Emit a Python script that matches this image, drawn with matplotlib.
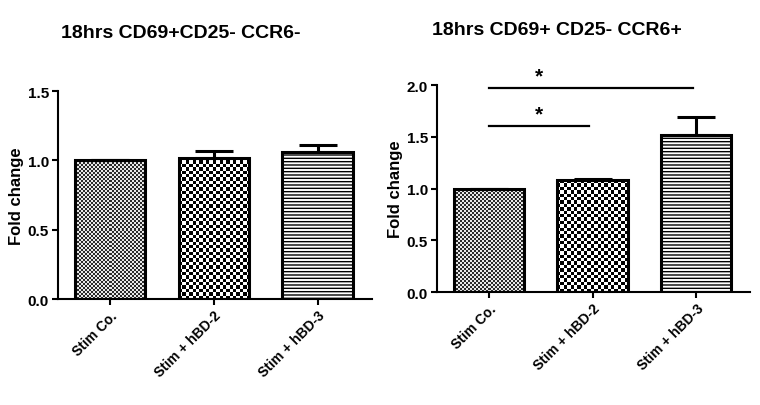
import numpy as np
import matplotlib
matplotlib.use("Agg")
import matplotlib.pyplot as plt

plt.rcParams['font.family'] = ['Liberation Sans', 'DejaVu Sans']
plt.rcParams['font.weight'] = 'bold'

groups = ["Stim Co.", "Stim + hBD-2", "Stim + hBD-3"]

# panel 1: CD69+CD25- CCR6-
left_vals = [1.0, 1.02, 1.06]
left_err = [0.0, 0.045, 0.05]

# panel 2: CD69+ CD25- CCR6+
right_vals = [1.0, 1.08, 1.52]
right_err = [0.0, 0.015, 0.17]
right_sig = [(0, 2, 1.97), (0, 1, 1.60)]  # (from, to, height)

titles = ["18hrs CD69+CD25- CCR6-", "18hrs CD69+ CD25- CCR6+"]

fig = plt.figure(figsize=(7.6, 4.06), dpi=100)
axL = fig.add_axes([0.0763, 0.261, 0.413, 0.512])
axR = fig.add_axes([0.575, 0.278, 0.412, 0.510])


def checker_fill(ax, bar, cell_px, dark='black', light='white'):
    # fill a bar with a checkerboard image clipped to the bar outline
    x0, w, h = bar.get_x(), bar.get_width(), bar.get_height()
    p0 = ax.transData.transform((x0, 0))
    p1 = ax.transData.transform((x0 + w, h))
    nx = max(int(round(abs(p1[0] - p0[0]) / cell_px)), 1)
    ny = max(int(round(abs(p1[1] - p0[1]) / cell_px)), 1)
    grid = (np.add.outer(np.arange(ny), np.arange(nx)) % 2).astype(float)
    cmap = matplotlib.colors.ListedColormap([light, dark])
    im = ax.imshow(grid, extent=(x0, x0 + w, 0, h), cmap=cmap, interpolation='nearest',
                   aspect='auto', zorder=1)
    im.set_clip_path(bar)


def draw_panel(ax, vals, err, ymax):
    x = np.arange(len(groups))
    ax.set_xlim(-0.5, len(groups) - 0.48)
    ax.set_ylim(0, ymax)
    bars = ax.bar(x, vals, width=0.68, facecolor='white', edgecolor='black', linewidth=2.2, zorder=2)
    bars[0].set_facecolor('none')
    bars[1].set_facecolor('none')
    bars[2].set_hatch('-----')
    bars[2].set_facecolor('white')
    checker_fill(ax, bars[0], 2, dark='#2a2a2a', light='#e8e8e8')
    checker_fill(ax, bars[1], 3.4)
    ax.errorbar(x, vals, yerr=[np.zeros(len(err)), err], fmt='none', ecolor='black',
                elinewidth=2.2, capsize=14, capthick=2.2, zorder=1)
    for s in ['top', 'right']:
        ax.spines[s].set_visible(False)
    for s in ['left', 'bottom']:
        ax.spines[s].set_linewidth(1.5)
    ax.set_xticks(x)
    ax.set_xticklabels(groups, rotation=45, ha='right', rotation_mode='anchor', fontsize=9.5, fontweight='bold')
    ax.tick_params(axis='both', width=1.5, length=4.5, labelsize=10, pad=2)
    ax.tick_params(axis='y', labelsize=11)
    ax.set_ylabel("Fold change", fontsize=12, fontweight='bold', labelpad=3)
    return x


plt.rcParams['hatch.color'] = '#555555'
plt.rcParams['hatch.linewidth'] = 1.0

draw_panel(axL, left_vals, left_err, 1.5)
axL.set_yticks([0.0, 0.5, 1.0, 1.5])
axL.set_yticklabels(['0.0', '0.5', '1.0', '1.5'])

xr = draw_panel(axR, right_vals, right_err, 2.0)
axR.set_yticks([0.0, 0.5, 1.0, 1.5, 2.0])
axR.set_yticklabels(['0.0', '0.5', '1.0', '1.5', '2.0'])
for lab in axL.get_yticklabels() + axR.get_yticklabels():
    lab.set_fontweight('bold')

for a, b, h in right_sig:
    axR.plot([xr[a], xr[b] - 0.03], [h, h], color='black', lw=1.6, clip_on=False)
    axR.text(0.48, h + 0.03, '*', ha='center', va='bottom', fontsize=15, fontweight='bold', clip_on=False)

fig.text(0.238, 0.918, titles[0], ha='center', va='center', fontsize=14, fontweight='bold')
fig.text(0.733, 0.926, titles[1], ha='center', va='center', fontsize=14, fontweight='bold')

fig.savefig("out.png", dpi=100)
